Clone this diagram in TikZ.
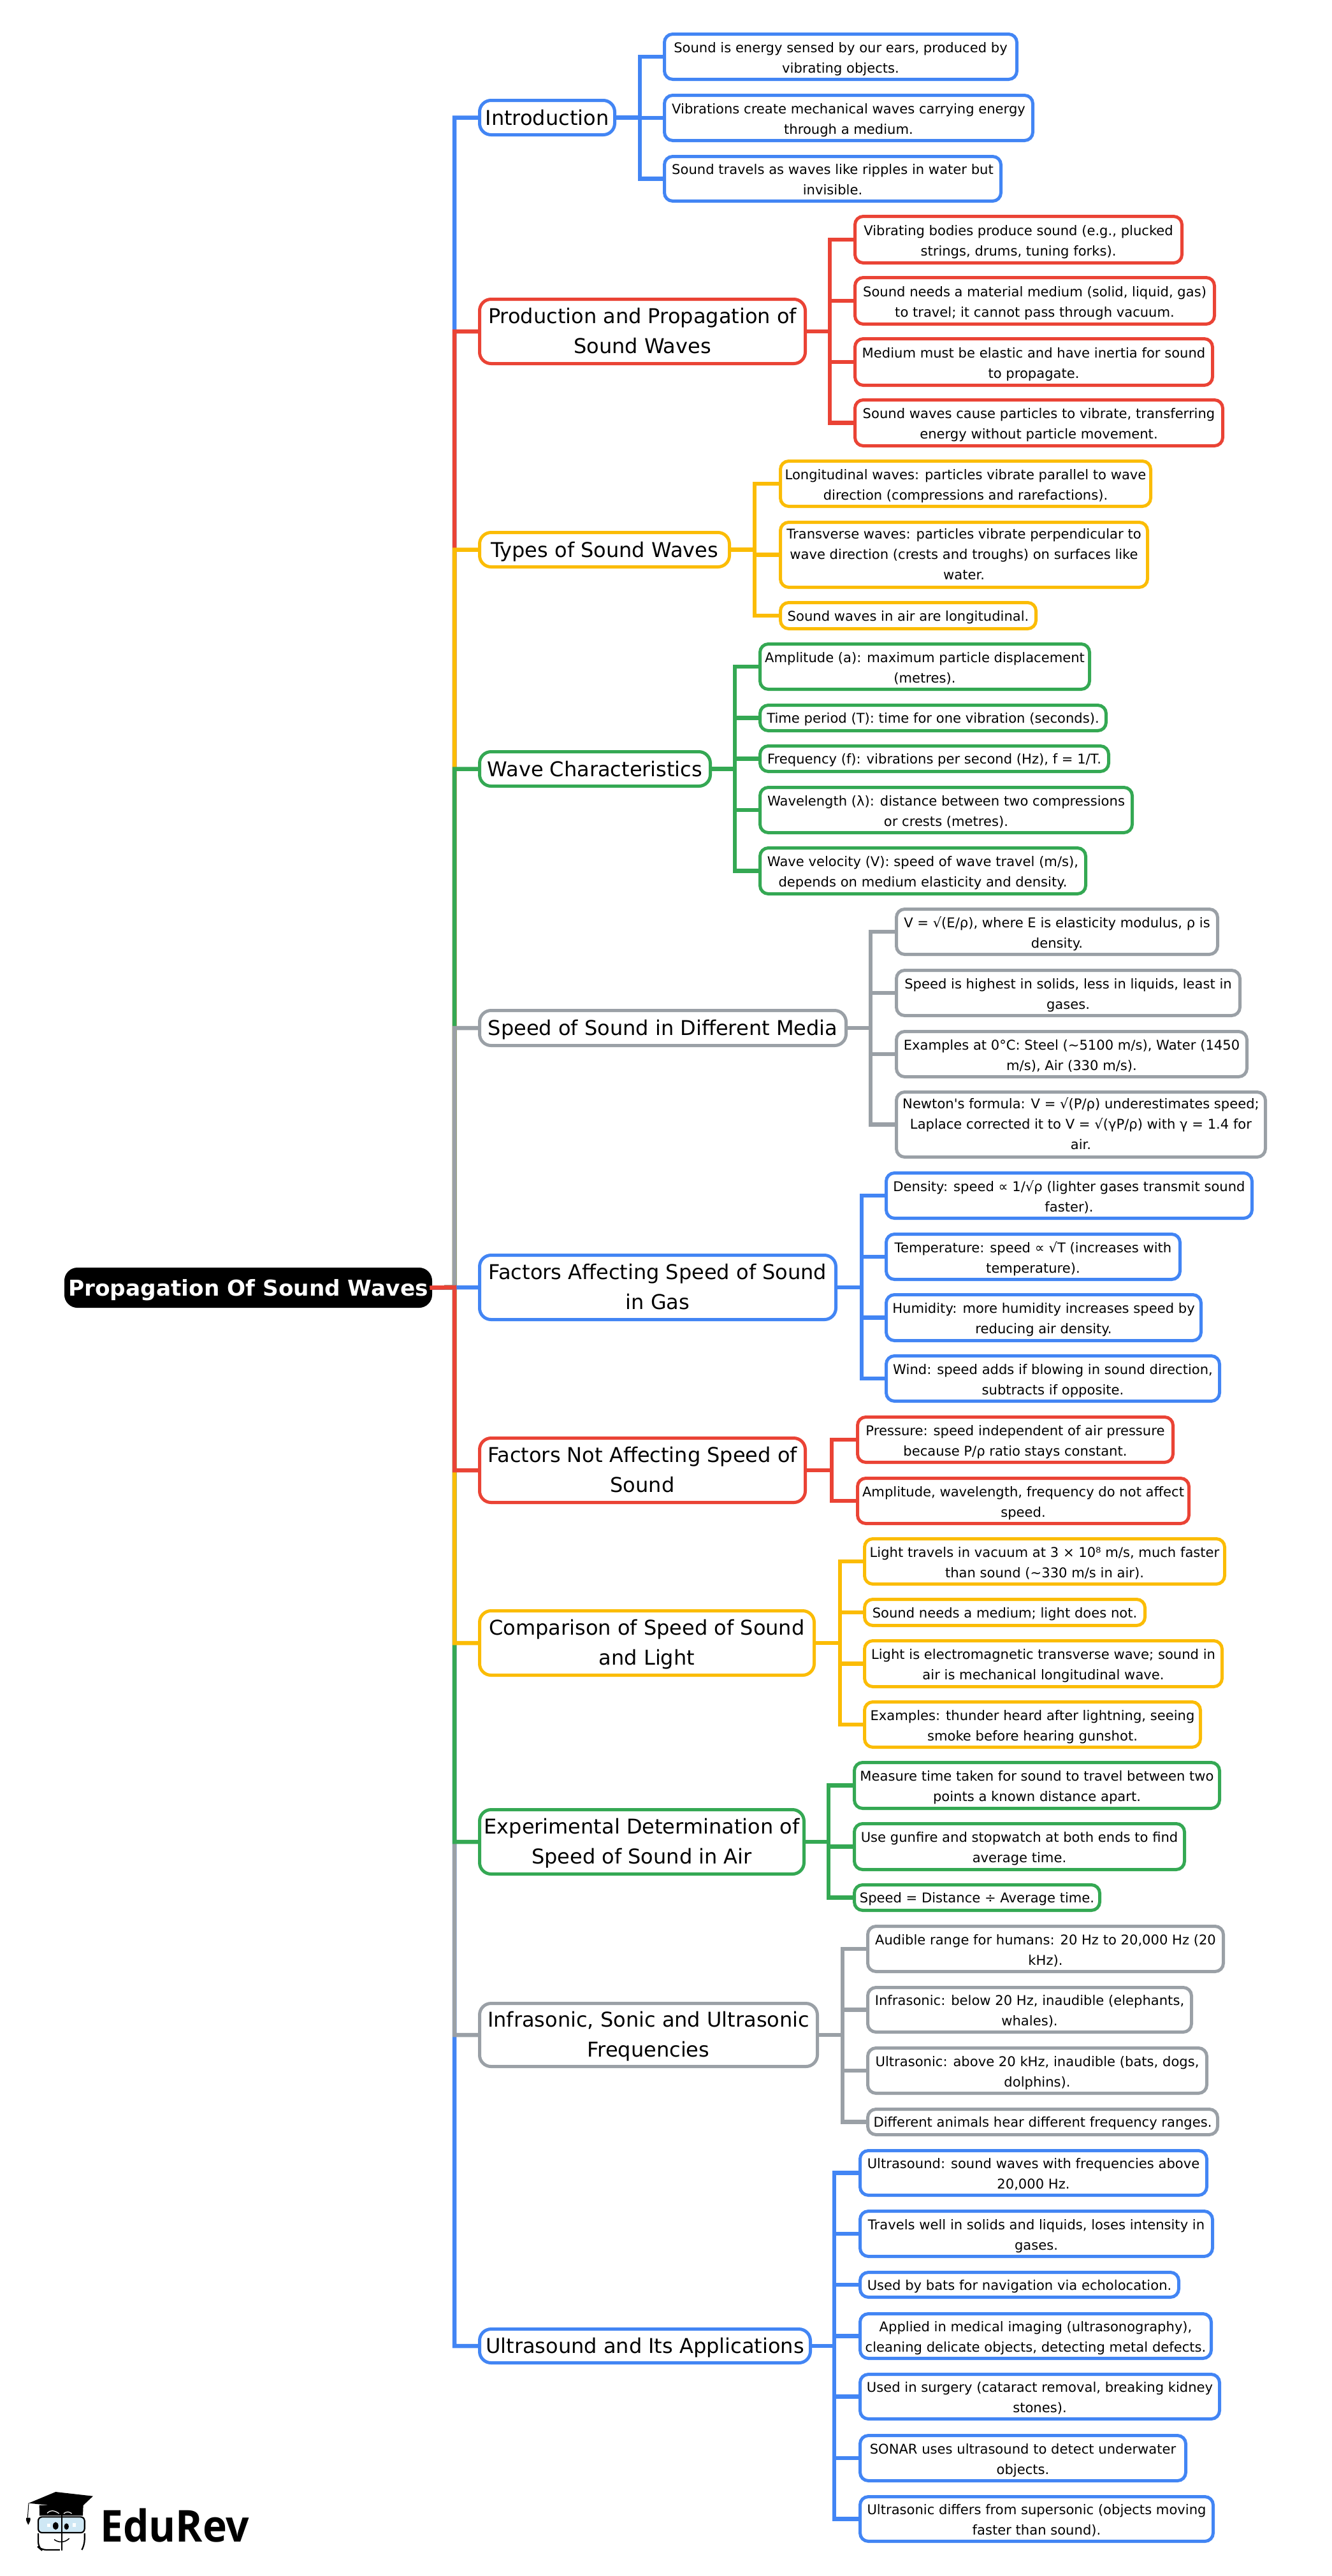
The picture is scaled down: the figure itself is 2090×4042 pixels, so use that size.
\documentclass[tikz,border=0pt]{standalone}
\usepackage{fontspec}
\setmainfont{DejaVu Sans}
\newfontfamily\logofont{Open Sans}[FakeStretch=0.93]
\definecolor{cblue}{HTML}{4285F4}
\definecolor{cred}{HTML}{EA4335}
\definecolor{cyel}{HTML}{FBBC05}
\definecolor{cgrn}{HTML}{34A853}
\definecolor{cgry}{HTML}{9AA0A6}
\definecolor{glass}{HTML}{CFE8F5}
\tikzset{
  anybox/.style={rectangle,fill=white,align=center,inner sep=0pt,outer sep=0pt,line width=5pt},
  leafbase/.style={anybox,rounded corners=13pt,font=\fontsize{21.1}{32}\selectfont,execute at end node={\rule[-6pt]{0pt}{6pt}}},
  leafbox/.style={leafbase,execute at begin node={\rule{0pt}{56pt}}},
  leafone/.style={leafbase,execute at begin node={\rule{0pt}{22pt}}},
  leafthree/.style={leafbase,execute at begin node={\rule{0pt}{83pt}}},
  mainbase/.style={anybox,rounded corners=18pt,font=\fontsize{32}{47}\selectfont,execute at end node={\rule[-8pt]{0pt}{8pt}}},
  mainbox/.style={mainbase,execute at begin node={\rule{0pt}{31pt}}},
  mainboxb/.style={mainbase,execute at begin node={\rule{0pt}{77pt}}},
  rootbox/.style={rectangle,fill=black,text=white,rounded corners=20pt,inner sep=0pt,outer sep=0pt,line width=1pt,font=\fontsize{34.3}{40}\selectfont\bfseries,
    execute at begin node={\rule{0pt}{34pt}},execute at end node={\rule[-8pt]{0pt}{8pt}}},
  conn/.style={line width=6.5pt}
}
\newcommand\bx[7]{%
  \pgfmathsetmacro\cx{(#3+#5)/2}\pgfmathsetmacro\cy{(#4+#6)/2}%
  \pgfmathsetmacro\bw{#5-#3-5}\pgfmathsetmacro\bh{#6-#4-5}%
  \node[#1,draw=#2,minimum width=\bw pt,minimum height=\bh pt] (#7) at (\cx,\cy)}
\newcommand\conn[4]{\foreach \l in {#4} \draw[conn,draw=#1] (#2.east) -- (#3 |- #2.east) |- (\l.west);}
\newcommand\spine[2]{\draw[conn,draw=#1] (root.east) -- (sp) |- (#2.west);}
\begin{document}
\begin{tikzpicture}[x=1pt,y=-1pt]
\useasboundingbox (0,0) rectangle (2090,4042);
\fill[white] (0,0) rectangle (2090,4042);
% root
\bx{rootbox}{black}{99}{1987}{680}{2054}{root} {Propagation Of Sound Waves};
\coordinate (sp) at (713,2020);
% mains
\bx{mainbox}{cblue}{750}{155}{967}{214}{m1} {Introduction};
\bx{mainboxb}{cred}{750}{467}{1266}{573}{m2} {Production and Propagation of\\Sound Waves};
\bx{mainbox}{cyel}{750}{833}{1147}{892}{m3} {Types of Sound Waves};
\bx{mainbox}{cgrn}{750}{1177}{1117}{1236}{m4} {Wave Characteristics};
\bx{mainbox}{cgry}{750}{1583}{1330}{1643}{m5} {Speed of Sound in Different Media};
\bx{mainboxb}{cblue}{750}{1967}{1314}{2073}{m6} {Factors Affecting Speed of Sound\\in Gas};
\bx{mainboxb}{cred}{750}{2254}{1266}{2360}{m7} {Factors Not Affecting Speed of\\Sound};
\bx{mainboxb}{cyel}{750}{2525}{1280}{2631}{m8} {Comparison of Speed of Sound\\and Light};
\bx{mainboxb}{cgrn}{750}{2837}{1264}{2943}{m9} {Experimental Determination of\\Speed of Sound in Air};
\bx{mainboxb}{cgry}{750}{3141}{1285}{3245}{m10} {Infrasonic, Sonic and Ultrasonic\\Frequencies};
\bx{mainbox}{cblue}{750}{3652}{1274}{3710}{m11} {Ultrasound and Its Applications};
% leaves 1
\bx{leafbox}{cblue}{1040}{51}{1598}{127}{a1} {Sound is energy sensed by our ears, produced by\\vibrating objects.};
\bx{leafbox}{cblue}{1040}{147}{1623}{223}{a2} {Vibrations create mechanical waves carrying energy\\through a medium.};
\bx{leafbox}{cblue}{1040}{243}{1573}{318}{a3} {Sound travels as waves like ripples in water but\\invisible.};
% 2
\bx{leafbox}{cred}{1339}{337}{1857}{415}{b1} {Vibrating bodies produce sound (e.g., plucked\\strings, drums, tuning forks).};
\bx{leafbox}{cred}{1339}{433}{1908}{511}{b2} {Sound needs a material medium (solid, liquid, gas)\\to travel; it cannot pass through vacuum.};
\bx{leafbox}{cred}{1339}{529}{1905}{607}{b3} {Medium must be elastic and have inertia for sound\\to propagate.};
\bx{leafbox}{cred}{1339}{625}{1921}{702}{b4} {Sound waves cause particles to vibrate, transferring\\energy without particle movement.};
% 3
\bx{leafbox}{cyel}{1222}{721}{1808}{797}{c1} {Longitudinal waves: particles vibrate parallel to wave\\direction (compressions and rarefactions).};
\bx{leafthree}{cyel}{1222}{817}{1803}{924}{c2} {Transverse waves: particles vibrate perpendicular to\\wave direction (crests and troughs) on surfaces like\\water.};
\bx{leafone}{cyel}{1222}{943}{1628}{989}{c3} {Sound waves in air are longitudinal.};
% 4
\bx{leafbox}{cgrn}{1190}{1008}{1712}{1084}{d1} {Amplitude (a): maximum particle displacement\\(metres).};
\bx{leafone}{cgrn}{1190}{1104}{1738}{1149}{d2} {Time period (T): time for one vibration (seconds).};
\bx{leafone}{cgrn}{1190}{1168}{1742}{1213}{d3} {Frequency (f): vibrations per second (Hz), f = 1/T.};
\bx{leafbox}{cgrn}{1190}{1233}{1779}{1309}{d4} {Wavelength (λ): distance between two compressions\\or crests (metres).};
\bx{leafbox}{cgrn}{1190}{1328}{1706}{1405}{d5} {Wave velocity (V): speed of wave travel (m/s),\\depends on medium elasticity and density.};
% 5
\bx{leafbox}{cgry}{1404}{1424}{1913}{1500}{e1} {V = √(E/ρ), where E is elasticity modulus, ρ is\\density.};
\bx{leafbox}{cgry}{1404}{1520}{1948}{1596}{e2} {Speed is highest in solids, less in liquids, least in\\gases.};
\bx{leafbox}{cgry}{1404}{1616}{1959}{1692}{e3} {Examples at 0°C: Steel (\textasciitilde5100 m/s), Water (1450\\m/s), Air (330 m/s).};
\bx{leafthree}{cgry}{1404}{1711}{1988}{1818}{e4} {Newton\textquotesingle s formula: V = √(P/ρ) underestimates speed;\\Laplace corrected it to V = √(γP/ρ) with γ = 1.4 for\\air.};
% 6
\bx{leafbox}{cblue}{1388}{1838}{1967}{1914}{f1} {Density: speed ∝ 1/√ρ (lighter gases transmit sound\\faster).};
\bx{leafbox}{cblue}{1388}{1934}{1854}{2010}{f2} {Temperature: speed ∝ √T (increases with\\temperature).};
\bx{leafbox}{cblue}{1388}{2029}{1887}{2106}{f3} {Humidity: more humidity increases speed by\\reducing air density.};
\bx{leafbox}{cblue}{1388}{2125}{1916}{2201}{f4} {Wind: speed adds if blowing in sound direction,\\subtracts if opposite.};
% 7
\bx{leafbox}{cred}{1343}{2221}{1843}{2297}{g1} {Pressure: speed independent of air pressure\\because P/ρ ratio stays constant.};
\bx{leafbox}{cred}{1343}{2317}{1868}{2393}{g2} {Amplitude, wavelength, frequency do not affect\\speed.};
% 8
\bx{leafbox}{cyel}{1354}{2412}{1924}{2488}{h1} {Light travels in vacuum at 3 × 10⁸ m/s, much faster\\than sound (\textasciitilde330 m/s in air).};
\bx{leafone}{cyel}{1354}{2507}{1799}{2553}{h2} {Sound needs a medium; light does not.};
\bx{leafbox}{cyel}{1354}{2572}{1920}{2649}{h3} {Light is electromagnetic transverse wave; sound in\\air is mechanical longitudinal wave.};
\bx{leafbox}{cyel}{1354}{2668}{1886}{2744}{h4} {Examples: thunder heard after lightning, seeing\\smoke before hearing gunshot.};
% 9
\bx{leafbox}{cgrn}{1338}{2763}{1916}{2840}{i1} {Measure time taken for sound to travel between two\\points a known distance apart.};
\bx{leafbox}{cgrn}{1338}{2859}{1861}{2936}{i2} {Use gunfire and stopwatch at both ends to find\\average time.};
\bx{leafone}{cgrn}{1338}{2955}{1728}{3000}{i3} {Speed = Distance ÷ Average time.};
% 10
\bx{leafbox}{cgry}{1359}{3020}{1922}{3096}{j1} {Audible range for humans: 20 Hz to 20,000 Hz (20\\kHz).};
\bx{leafbox}{cgry}{1359}{3116}{1872}{3191}{j2} {Infrasonic: below 20 Hz, inaudible (elephants,\\whales).};
\bx{leafbox}{cgry}{1359}{3211}{1896}{3287}{j3} {Ultrasonic: above 20 kHz, inaudible (bats, dogs,\\dolphins).};
\bx{leafone}{cgry}{1359}{3307}{1913}{3352}{j4} {Different animals hear different frequency ranges.};
% 11
\bx{leafbox}{cblue}{1347}{3372}{1896}{3447}{k1} {Ultrasound: sound waves with frequencies above\\20,000 Hz.};
\bx{leafbox}{cblue}{1347}{3467}{1905}{3543}{k2} {Travels well in solids and liquids, loses intensity in\\gases.};
\bx{leafone}{cblue}{1347}{3563}{1852}{3607}{k3} {Used by bats for navigation via echolocation.};
\bx{leafbox}{cblue}{1347}{3628}{1903}{3703}{k4} {Applied in medical imaging (ultrasonography),\\cleaning delicate objects, detecting metal defects.};
\bx{leafbox}{cblue}{1347}{3723}{1916}{3798}{k5} {Used in surgery (cataract removal, breaking kidney\\stones).};
\bx{leafbox}{cblue}{1347}{3819}{1863}{3895}{k6} {SONAR uses ultrasound to detect underwater\\objects.};
\bx{leafbox}{cblue}{1347}{3915}{1906}{3990}{k7} {Ultrasonic differs from supersonic (objects moving\\faster than sound).};
% branch coordinates
\coordinate (x1) at (1004,184);
\coordinate (x2) at (1302,520);
\coordinate (x3) at (1184,862);
\coordinate (x4) at (1153,1206);
\coordinate (x5) at (1366,1613);
\coordinate (x6) at (1352,2020);
\coordinate (x7) at (1305,2307);
\coordinate (x8) at (1318,2578);
\coordinate (x9) at (1300,2890);
\coordinate (x10) at (1322,3193);
\coordinate (x11) at (1309,3681);
\conn{cblue}{m1}{x1}{a1,a2,a3}
\conn{cred}{m2}{x2}{b1,b2,b3,b4}
\conn{cyel}{m3}{x3}{c1,c2,c3}
\conn{cgrn}{m4}{x4}{d1,d2,d3,d4,d5}
\conn{cgry}{m5}{x5}{e1,e2,e3,e4}
\conn{cblue}{m6}{x6}{f1,f2,f3,f4}
\conn{cred}{m7}{x7}{g1,g2}
\conn{cyel}{m8}{x8}{h1,h2,h3,h4}
\conn{cgrn}{m9}{x9}{i1,i2,i3}
\conn{cgry}{m10}{x10}{j1,j2,j3,j4}
\conn{cblue}{m11}{x11}{k1,k2,k3,k4,k5,k6,k7}
\spine{cblue}{m1}
\spine{cred}{m2}
\spine{cyel}{m3}
\spine{cgrn}{m4}
\spine{cgry}{m5}
\spine{cblue}{m11}
\spine{cgry}{m10}
\spine{cgrn}{m9}
\spine{cyel}{m8}
\spine{cred}{m7}
\spine{cblue}{m6}
\draw[conn,draw=cred,line cap=rect] (root.east) -- (sp);
% logo
\node[anchor=base west,inner sep=0pt,font=\fontsize{69}{69}\logofont\bfseries] (logotext) at (157,3988) {EduRev};
\begin{scope}[shift={(0,3820)},x=0.3333pt,y=-0.3333pt]
  \fill[black] (185,333) -- (392,333) -- (390,382) -- (186,382) -- cycle;
  \fill[black] (135,323) -- (262,270) -- (438,290) -- (358,365) -- (250,335) -- cycle;
  \draw[black,line width=1pt] (135,323) -- (130,392);
  \fill[black] (124,392) -- (142,392) .. controls (146,402) and (140,412) .. (133,425) .. controls (126,412) and (120,402) .. (124,392) -- cycle;
  \draw[white,line width=1.2pt] (222,370) .. controls (235,355) and (255,355) .. (278,372);
  \draw[white,line width=1.2pt] (300,372) .. controls (312,362) and (325,362) .. (338,372);
  \draw[black,line width=2.2pt,fill=glass,rounded corners=6pt] (180,388) rectangle (398,462);
  \draw[black,line width=2.2pt,rounded corners=8pt] (282,543) -- (195,543) -- (180,530) -- (180,465);
  \draw[black,line width=2.2pt,rounded corners=8pt] (385,543) -- (398,520) -- (398,465);
  \draw[black,line width=2.2pt] (291,380) -- (291,546);
  \fill[black] (262,430) ellipse [x radius=13,y radius=18];
  \fill[black] (313,433) ellipse [x radius=11,y radius=15];
  \fill[white] (222,420) rectangle (236,436);
  \fill[white] (342,418) rectangle (358,434);
  \draw[black,line width=1.5pt] (255,494) .. controls (275,510) and (305,510) .. (326,489);
\end{scope}
\end{tikzpicture}
\end{document}
